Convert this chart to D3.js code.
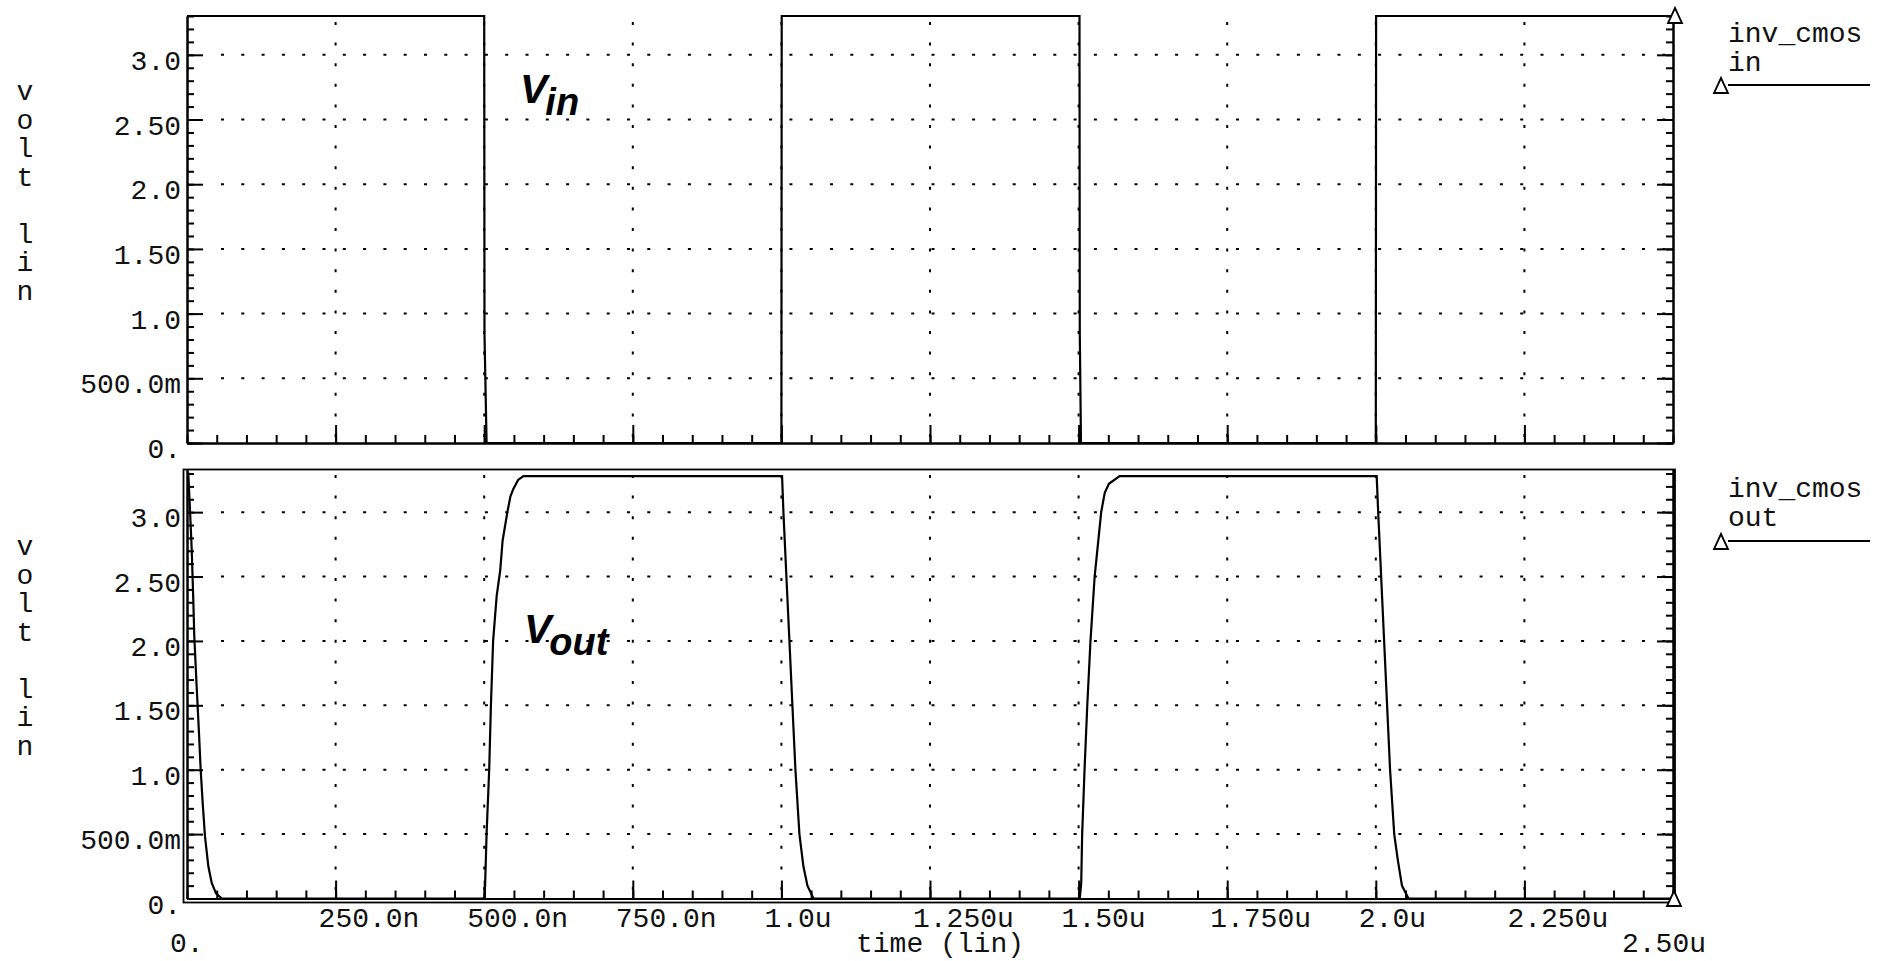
<!DOCTYPE html>
<html>
<head>
<meta charset="utf-8">
<script src="https://cdn.jsdelivr.net/npm/d3@7"></script>
<style>
  html, body { margin: 0; padding: 0; background: #fff; }
  svg { display: block; }
  .mono { font-family: "Liberation Mono", "DejaVu Sans Mono", monospace; font-size: 28px; fill: #111; }
  .lbl { font-family: "Liberation Sans", Arial, sans-serif; font-weight: bold; font-style: italic; fill: #000; }
</style>
</head>
<body>
<svg id="chart" width="1879" height="961"></svg>
<script>
// ---------- data ----------
const inTime = [0, 0.5, 0.5005, 0.504, 1.0, 1.0005, 1.5015, 1.502, 1.504, 2.0, 2.0005, 2.5];
const inVolt = [3.3, 3.3, 0.84, 0, 0, 3.3, 3.3, 0.84, 0, 0, 3.3, 3.3];

const outTime = [
  0, 0.0022, 0.005, 0.0079, 0.0106, 0.0123, 0.0163, 0.0202, 0.023, 0.0264, 0.0303, 0.0359, 0.0416, 0.0488, 0.0584,
  0.5, 0.5015, 0.504, 0.5084, 0.5113, 0.515, 0.521, 0.527, 0.531, 0.539, 0.544, 0.549, 0.557, 0.566,
  1.0, 1.0011, 1.0034, 1.0084, 1.0135, 1.0185, 1.0236, 1.0303, 1.037, 1.0438, 1.0539,
  1.502, 1.5044, 1.506, 1.510, 1.5146, 1.520, 1.527, 1.538, 1.544, 1.551, 1.569,
  2.0, 2.0015, 2.004, 2.009, 2.014, 2.019, 2.024, 2.031, 2.037, 2.044, 2.055,
  2.5
];
const outVolt = [
  3.3, 3.3, 3.02, 2.71, 2.32, 2.03, 1.64, 1.28, 1.0, 0.74, 0.48, 0.25, 0.12, 0.04, 0,
  0, 0.1, 0.5, 1.0, 1.5, 2.0, 2.35, 2.55, 2.78, 3.0, 3.12, 3.18, 3.25, 3.28,
  3.28, 3.28, 3.0, 2.5, 2.0, 1.5, 1.0, 0.5, 0.25, 0.1, 0,
  0, 0.12, 0.5, 1.0, 1.5, 2.0, 2.5, 3.0, 3.15, 3.22, 3.28,
  3.28, 3.28, 3.0, 2.5, 2.0, 1.5, 1.0, 0.5, 0.3, 0.1, 0,
  0
];

const yTickValues = [0, 0.5, 1.0, 1.5, 2.0, 2.5, 3.0];
const yTickLabels = ["0.", "500.0m", "1.0", "1.50", "2.0", "2.50", "3.0"];
const xTickValues = [0.25, 0.5, 0.75, 1.0, 1.25, 1.5, 1.75, 2.0, 2.25];
const xTickLabels = ["250.0n", "500.0n", "750.0n", "1.0u", "1.250u", "1.50u", "1.750u", "2.0u", "2.250u"];
const xEndLabels = ["0.", "2.50u"];
const xTitle = "time (lin)";
const yTitle = ["v", "o", "l", "t", "", "l", "i", "n"];
const traceNames = [["inv_cmos", "in"], ["inv_cmos", "out"]];

// ---------- layout ----------
const svg = d3.select("#chart");
svg.append("rect").attr("width", 1879).attr("height", 961).attr("fill", "#fff");

const X0 = 187, X1 = 1673;
const x = d3.scaleLinear().domain([0, 2.5]).range([X0, X1]);
const yTop = d3.scaleLinear().domain([0, 3.3]).range([443, 16]);
const yBot = d3.scaleLinear().domain([0, 3.335]).range([898.5, 469]);

const minorY = d3.range(0, 3.301, 0.1);
const minorX = d3.range(0, 2.501, 0.05);

function drawPanel(y, top, bottom, titleBase) {
  const g = svg.append("g");
  // dotted grid
  yTickValues.filter(v => v > 0).forEach(v => {
    g.append("line").attr("x1", X0 + 34).attr("x2", X1).attr("y1", y(v)).attr("y2", y(v))
      .attr("stroke", "#000").attr("stroke-width", 2).attr("stroke-dasharray", "3 17.3");
  });
  xTickValues.forEach(t => {
    g.append("line").attr("x1", x(t)).attr("x2", x(t)).attr("y1", top + 6).attr("y2", bottom)
      .attr("stroke", "#000").attr("stroke-width", 2).attr("stroke-dasharray", "3 17.6");
  });

  // left axis (ticks inward)
  const left = g.append("g").attr("transform", `translate(${X0},0)`);
  left.call(d3.axisRight(y).tickValues(minorY).tickSize(7).tickSizeOuter(0).tickFormat(""));
  left.append("g").call(d3.axisRight(y).tickValues(yTickValues).tickSize(16).tickSizeOuter(0).tickFormat(""));
  // right axis (ticks inward)
  const right = g.append("g").attr("transform", `translate(${X1},0)`);
  right.call(d3.axisLeft(y).tickValues(minorY).tickSize(7).tickSizeOuter(0).tickFormat(""));
  right.append("g").call(d3.axisLeft(y).tickValues(yTickValues).tickSize(16).tickSizeOuter(0).tickFormat(""));
  // bottom axis (ticks upward)
  const bot = g.append("g").attr("transform", `translate(0,${y(0)})`);
  bot.call(d3.axisTop(x).tickValues(minorX).tickSize(8).tickSizeOuter(0).tickFormat(""));
  bot.append("g").call(d3.axisTop(x).tickValues(xTickValues).tickSize(18).tickSizeOuter(0).tickFormat(""));
  g.selectAll(".domain").attr("stroke", "#000").attr("stroke-width", 2);
  g.selectAll(".tick line").attr("stroke", "#000").attr("stroke-width", 2);

  // y tick labels
  yTickValues.forEach((v, i) => {
    g.append("text").attr("class", "mono").attr("x", 181).attr("y", y(v) + 15)
      .attr("text-anchor", "end").text(yTickLabels[i]);
  });
  // y title
  yTitle.forEach((c, i) => {
    g.append("text").attr("class", "mono").attr("x", 25).attr("y", titleBase + i * 28.5)
      .attr("text-anchor", "middle").text(c);
  });
  return g;
}

// top panel
drawPanel(yTop, 16, 443, 100);
// lower panel
const gb = drawPanel(yBot, 469, 899, 555);
// lower panel frame
gb.append("rect").attr("x", 183.5).attr("y", 469.5).attr("width", 1675 - 183.5).attr("height", 902.5 - 469.5)
  .attr("fill", "none").attr("stroke", "#000").attr("stroke-width", 1.8);

// x labels
xTickValues.forEach((t, i) => {
  svg.append("text").attr("class", "mono").attr("x", x(t) - 17).attr("y", 927).text(xTickLabels[i]);
});
svg.append("text").attr("class", "mono").attr("x", 170).attr("y", 952).text(xEndLabels[0]);
svg.append("text").attr("class", "mono").attr("x", 1622).attr("y", 952).text(xEndLabels[1]);
svg.append("text").attr("class", "mono").attr("x", 940).attr("y", 952).attr("text-anchor", "middle").text(xTitle);

// traces
const line = (sc) => d3.line().x(d => x(d[0])).y(d => sc(d[1]));
const inPts = inTime.map((t, i) => [t, inVolt[i]]);
const outPts = outTime.map((t, i) => [t, outVolt[i]]);
svg.append("path").attr("d", line(yTop)(inPts)).attr("fill", "none").attr("stroke", "#000").attr("stroke-width", 2.2);
svg.append("path").attr("d", line(yBot)(outPts)).attr("fill", "none").attr("stroke", "#000").attr("stroke-width", 2.2);

// triangle markers
function tri(cx, cy) {
  svg.append("path").attr("d", `M${cx},${cy - 8} L${cx + 7},${cy + 7} L${cx - 7},${cy + 7} Z`)
    .attr("fill", "#fff").attr("stroke", "#000").attr("stroke-width", 1.8);
}
tri(1675, 16);
tri(1674, 899);

// legends
const legendY = [[42, 71, 85], [497, 526, 541]];
traceNames.forEach((n, i) => {
  const [b1, b2, ly] = legendY[i];
  svg.append("text").attr("class", "mono").attr("x", 1728).attr("y", b1).text(n[0]);
  svg.append("text").attr("class", "mono").attr("x", 1728).attr("y", b2).text(n[1]);
  svg.append("line").attr("x1", 1728).attr("x2", 1870).attr("y1", ly).attr("y2", ly)
    .attr("stroke", "#000").attr("stroke-width", 2);
  tri(1721, ly + 1);
});

// Vin / Vout labels
function vlabel(xp, yp, sub) {
  const t = svg.append("text").attr("class", "lbl").attr("x", xp).attr("y", yp).attr("font-size", 41);
  t.append("tspan").text("V");
  t.append("tspan").attr("dy", 12).attr("dx", -2).attr("font-size", 38).text(sub);
}
vlabel(520, 103, "in");
vlabel(524, 643, "out");
</script>
</body>
</html>
